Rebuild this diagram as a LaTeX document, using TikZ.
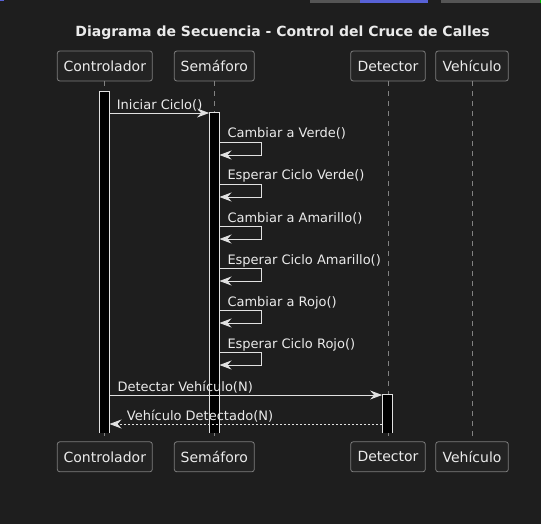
\documentclass[tikz,border=0pt]{standalone}
\usepackage{fontspec}
\setmainfont{DejaVu Sans}
\usetikzlibrary{arrows.meta}
\definecolor{bgc}{RGB}{30,30,30}
\definecolor{boxfill}{RGB}{35,35,35}
\definecolor{boxline}{RGB}{125,125,125}
\definecolor{txt}{RGB}{235,235,235}
\definecolor{lineg}{RGB}{225,225,225}
\definecolor{lifeg}{RGB}{130,130,130}
\definecolor{uigrey}{RGB}{85,85,85}
\definecolor{uiblue}{RGB}{88,98,214}
\tikzset{
  part/.style={draw=boxline, fill=boxfill, rounded corners=2.5bp, line width=0.8bp,
    minimum height=30bp, inner sep=0pt, text=txt, font=\fontsize{14bp}{16bp}\selectfont},
  life/.style={draw=lifeg, line width=0.8bp, dash pattern=on 5bp off 5bp},
  actbar/.style={fill=black, minimum width=10bp, inner sep=0pt},
  barline/.style={draw=lineg, line width=0.9bp},
  msg/.style={draw=lineg, line width=0.9bp, -{Stealth[length=12bp,width=9bp,inset=4bp,fill=lineg]}},
  rmsg/.style={msg, dash pattern=on 2bp off 2bp},
  lbl/.style={anchor=base west, inner sep=0pt, text=txt, font=\fontsize{13bp}{15bp}\selectfont},
  ttl/.style={anchor=base, inner sep=0pt, text=txt, font=\bfseries\fontsize{14bp}{16bp}\selectfont}
}
\begin{document}
\begin{tikzpicture}[x=1bp,y=-1bp]
\fill[bgc] (0,0) rectangle (541,524);
\useasboundingbox (0,0) rectangle (541,524);
% UI remnants at top edge
\fill[uiblue] (0,0) rectangle (4,1.5);
\fill[uigrey] (310,0) rectangle (360,3.5);
\fill[uiblue] (360,0) rectangle (428,3.5);
\fill[uigrey] (441,0) rectangle (540,3.5);
\fill[green!70!black] (540,0) rectangle (541,3.5);
% title
\node[ttl] (title) at (282.5,36.7) {Diagrama de Secuencia - Control del Cruce de Calles};
% participants top
\node[part, minimum width=95bp] (ct) at (104.8,66) {Controlador};
\node[part, minimum width=80bp] (st) at (214.3,66) {Semáforo};
\node[part, minimum width=74.6bp] (dt) at (388,66) {Detector};
\node[part, minimum width=72.6bp] (vt) at (472,66) {Vehículo};
% participants bottom
\node[part, minimum width=95bp] (cb) at (104.8,456.8) {Controlador};
\node[part, minimum width=80bp] (sb) at (214.3,456.8) {Semáforo};
\node[part, minimum width=74.6bp] (db) at (388,456.8) {Detector};
\node[part, minimum width=72.6bp] (vb) at (472,456.8) {Vehículo};
% lifelines
\draw[life] (ct.south) -- (cb.north);
\draw[life] (st.south) -- (sb.north);
\draw[life] (dt.south) -- (db.north);
\draw[life] (vt.south) -- (vb.north);
% activation bars (open at the bottom)
\node[actbar, minimum height=341bp] (cbar) at (104.3,262.5) {};
\node[actbar, minimum height=320bp] (sbar) at (214.3,273) {};
\node[actbar, minimum height=38bp] (dbar) at (387.3,414) {};
\foreach \b in {cbar,sbar,dbar}{
  \draw[barline] (\b.south west) -- (\b.north west) -- (\b.north east) -- (\b.south east);
}
% message rows
\coordinate (m1) at (0,113);
\coordinate (m8) at (0,395);
\coordinate (m9) at (0,424);
% Iniciar Ciclo
\node[lbl] (l1) at (116.7,109.5) {Iniciar Ciclo()};
\draw[msg] (cbar.east |- m1) -- (sbar.west |- m1);
% self messages
\foreach \y/\t/\n in {142/{Cambiar a Verde()}/a,
                      184/{Esperar Ciclo Verde()}/b,
                      226/{Cambiar a Amarillo()}/c,
                      268/{Esperar Ciclo Amarillo()}/d,
                      310/{Cambiar a Rojo()}/e,
                      352/{Esperar Ciclo Rojo()}/f}{
  \node[lbl] (s\n) at (227.3,\y-4) {\t};
  \coordinate (s\n1) at (0,\y);
  \coordinate (s\n2) at (0,\y+13);
  \draw[msg] (sbar.east |- s\n1) -- ++(42.4,0) -- ++(0,13) -- (sbar.east |- s\n2);
}
% Detectar
\node[lbl] (l8) at (117.3,391) {Detectar Vehículo(N)};
\draw[msg] (cbar.east |- m8) -- (dbar.west |- m8);
% Detectado
\node[lbl] (l9) at (126.7,420) {Vehículo Detectado(N)};
\draw[rmsg] (dbar.west |- m9) -- (cbar.east |- m9);
\end{tikzpicture}
\end{document}
